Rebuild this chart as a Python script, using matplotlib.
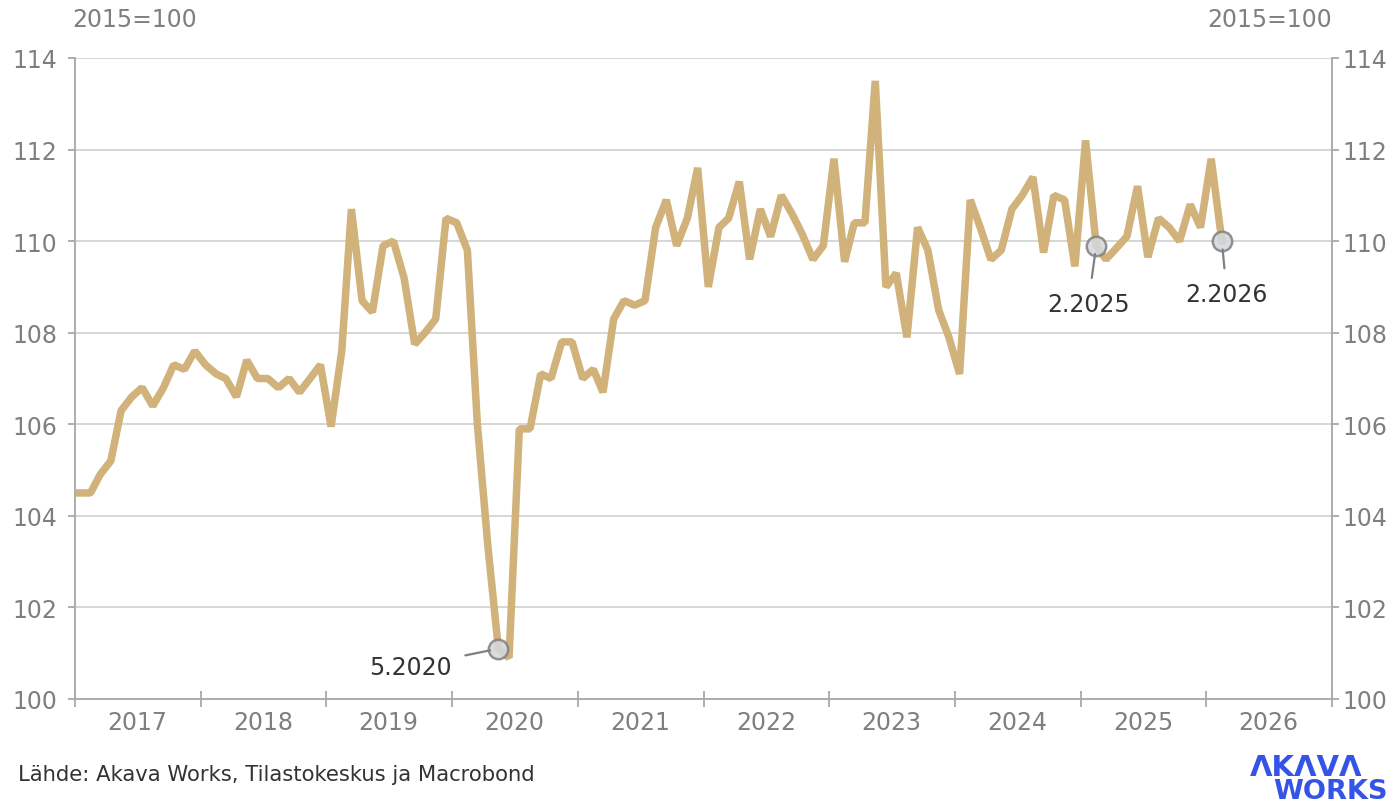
import numpy as np
import pandas as pd
import matplotlib
matplotlib.use('Agg')
import matplotlib.pyplot as plt
import matplotlib.dates as mdates

# monthly index, 2015=100, from 1.2017 to 2.2026
index_values = [
    104.5, 104.5, 104.9, 105.2, 106.3, 106.6, 106.8, 106.4, 106.8, 107.3, 107.2, 107.6,  # 2017
    107.3, 107.1, 107.0, 106.6, 107.4, 107.0, 107.0, 106.8, 107.0, 106.7, 107.0, 107.3,  # 2018
    105.95, 107.6, 110.7, 108.7, 108.45, 109.9, 110.0, 109.2, 107.75, 108.0, 108.3, 110.5,  # 2019
    110.4, 109.8, 106.0, 103.3, 101.1, 100.9, 105.9, 105.9, 107.1, 107.0, 107.8, 107.8,  # 2020
    107.0, 107.2, 106.7, 108.3, 108.7, 108.6, 108.7, 110.3, 110.9, 109.9, 110.5, 111.6,  # 2021
    109.0, 110.3, 110.5, 111.3, 109.6, 110.7, 110.1, 111.0, 110.6, 110.15, 109.6, 109.9,  # 2022
    111.8, 109.55, 110.4, 110.4, 113.5, 109.0, 109.3, 107.9, 110.3, 109.8, 108.5, 107.9,  # 2023
    107.1, 110.9, 110.3, 109.6, 109.8, 110.7, 111.0, 111.4, 109.75, 111.0, 110.9, 109.45,  # 2024
    112.2, 109.9, 109.6, 109.85, 110.1, 111.2, 109.65, 110.5, 110.3, 110.0, 110.8, 110.3,  # 2025
    111.8, 110.0,  # 2026
]
start_month = '2017-01-01'
y_ticks = [100, 102, 104, 106, 108, 110, 112, 114]

# highlighted points: label, month
highlights = [('5.2020', '2020-05-01'), ('2.2025', '2025-02-01'), ('2.2026', '2026-02-01')]
label_offsets = {'5.2020': (-88, -18), '2.2025': (-8, -58), '2.2026': (5, -53)}

months = pd.date_range(start_month, periods=len(index_values), freq='MS') + pd.Timedelta(days=14)
series = pd.Series(index_values, index=months)

grey = '#7f7f7f'
line_col = '#d0b27a'

fig = plt.figure(figsize=(13.91, 8.03), dpi=100)
ax = fig.add_axes([75/1391, 1 - 700/803, (1332-75)/1391, (700-59)/803])

ax.plot(series.index, series.values, color=line_col, lw=5.4, solid_joinstyle='bevel', zorder=3)

ax.set_xlim(pd.Timestamp('2017-01-01'), pd.Timestamp('2027-01-01'))
ax.set_ylim(100, 114)
ax.set_yticks(y_ticks)
ax.grid(axis='y', color='#cccccc', lw=1.1, zorder=0)

# year boundaries as major ticks, labels in the middle of each year
ax.xaxis.set_major_locator(mdates.YearLocator())
ax.xaxis.set_major_formatter(plt.NullFormatter())
ax.xaxis.set_minor_locator(mdates.MonthLocator(bymonth=7, bymonthday=1))
ax.xaxis.set_minor_formatter(mdates.DateFormatter('%Y'))
ax.tick_params(axis='x', which='major', direction='inout', length=11, width=1.1, color='#999999')
ax.tick_params(axis='x', which='minor', length=0, pad=8, labelsize=17, labelcolor=grey)
ax.tick_params(axis='y', which='major', direction='out', length=5, width=1.1, color='#999999',
               labelsize=17, labelcolor=grey, pad=7.5)

# same scale on the right
ax2 = ax.twinx()
ax2.set_ylim(ax.get_ylim())
ax2.set_yticks(y_ticks)
ax2.tick_params(axis='y', direction='out', length=5, width=1.1, color='#999999',
                labelsize=17, labelcolor=grey, pad=2.5)

for a in (ax, ax2):
    for side in ['left', 'right', 'bottom']:
        a.spines[side].set_color('#aaaaaa')
        a.spines[side].set_linewidth(1.1)
    a.spines['top'].set_visible(False)

for label, month in highlights:
    x = pd.Timestamp(month) + pd.Timedelta(days=14)
    y = series[x]
    ax.plot([x], [y], marker='o', ms=14, mfc='#d3d8df', mec='#808080', mew=1.8, alpha=0.85, zorder=4)
    ax.annotate(label, xy=(x, y), xytext=label_offsets[label], textcoords='offset pixels',
                ha='center', va='center', fontsize=17, color='#333333',
                arrowprops=dict(arrowstyle='-', color='#808080', lw=1.6, shrinkA=8, shrinkB=6),
                zorder=5)

fig.text(72/1391, 1 - 20/803, '2015=100', fontsize=17, color=grey, ha='left', va='center')
fig.text(1332/1391, 1 - 20/803, '2015=100', fontsize=17, color=grey, ha='right', va='center')
fig.text(18/1391, 1 - 775/803, 'Lähde: Akava Works, Tilastokeskus ja Macrobond', fontsize=15.2,
         color='#333333', ha='left', va='center')
fig.text(1250/1391, 1 - 776/803, 'ΛKΛVΛ', fontsize=21, fontweight='bold', color='#3553e6',
         ha='left', va='baseline')
fig.text(1388/1391, 1 - 799/803, 'WORKS', fontsize=19.5, fontweight='bold', color='#3553e6',
         ha='right', va='baseline')

fig.savefig('out.png', dpi=100)
